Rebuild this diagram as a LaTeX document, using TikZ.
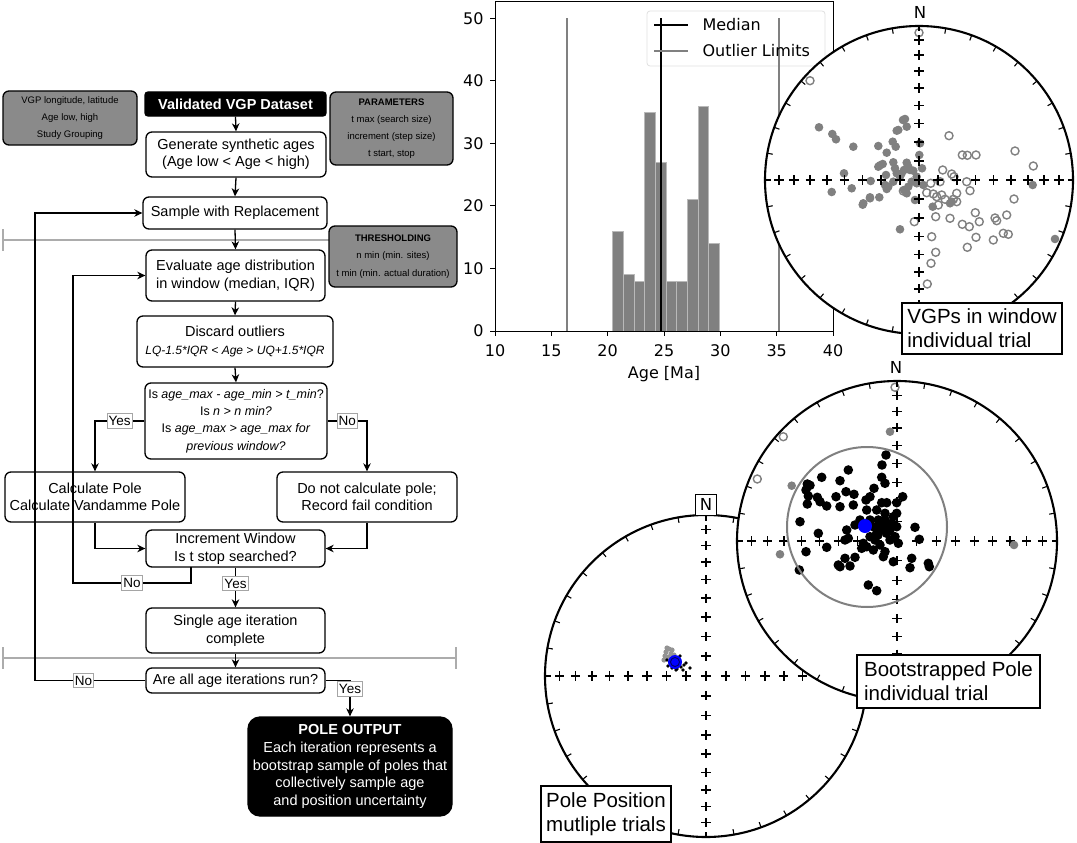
\documentclass[tikz,border=0pt]{standalone}
\usepackage{fontspec}
\setmainfont{Liberation Sans}
\newfontfamily\dvs{DejaVu Sans}
\usetikzlibrary{arrows.meta}
\definecolor{boxgray}{RGB}{138,138,138}
\definecolor{divgray}{RGB}{172,172,172}
\definecolor{mplgray}{RGB}{128,128,128}
\definecolor{lblgray}{RGB}{165,165,165}
\definecolor{mblue}{RGB}{0,0,255}
\newcommand\fs[2]{\fontsize{#1}{#2}\selectfont}
\newcommand\crs[2]{\draw[line width=1.4] ({#1-4.6},{#2}) -- ({#1+4.6},{#2}) ({#1},{#2-4.6}) -- ({#1},{#2+4.6});}
\newcommand\snetbg[3]{\fill[white] (#1,#2) circle[radius=#3pt];}
\newcommand\snetgrid[3]{%
  \foreach \k in {1,...,8}{%
    \pgfmathsetmacro\dd{#3*sqrt(2)*sin(5*\k)}%
    \crs{#1+\dd}{#2}\crs{#1-\dd}{#2}\crs{#1}{#2+\dd}\crs{#1}{#2-\dd}}%
  \crs{#1}{#2}}
\newcommand\snetrim[3]{%
  \foreach \a in {0,10,...,350}{\draw[line width=1.1] ({#1+#3*cos(\a)},{#2+#3*sin(\a)}) -- ({#1+(#3-5.5)*cos(\a)},{#2+(#3-5.5)*sin(\a)});}%
  \draw[line width=2.1] (#1,#2) circle[radius=#3pt];}
\tikzset{
  flow/.style={draw, line width=1.3, rounded corners=6, fill=white, align=center, inner sep=1.5pt, font=\fs{14.5}{17.5}},
  gflow/.style={flow, fill=boxgray, font=\fs{9.5}{17.2}},
  bflow/.style={flow, fill=black, text=white, rounded corners=3},
  lbl/.style={draw=lblgray, fill=white, line width=1, inner xsep=1.5pt, inner ysep=2.5pt, rounded corners=0, font=\fs{13.5}{16}},
  arr/.style={line width=1.3, -{Stealth[length=8pt,width=7.5pt,inset=2.5pt]}},
  hist/.style={font=\dvs\fs{16}{19}},
  slabel/.style={draw, line width=1.2, fill=white, align=left, inner sep=2.5pt, font=\fs{20.5}{24}},
  opn/.style={draw=mplgray, line width=1.4},
}
\begin{document}
\begin{tikzpicture}[x=1pt,y=-1pt]
\useasboundingbox (0,0) rectangle (1077,843);
% ---------------- flowchart ----------------
\draw[divgray, line width=1.3] (3,240) -- (457,240) (3,229) -- (3,251);
\draw[divgray, line width=1.3] (3,658) -- (456,658) (3,647) -- (3,669) (456,647) -- (456,669);

\node[gflow, minimum width=134, minimum height=54] (vgp) at (70,118) {VGP longitude, latitude\\Age low, high\\Study Grouping};
\node[bflow, minimum width=181, minimum height=24] (valid) at (235.5,104) {\textbf{Validated VGP Dataset}};
\node[gflow, minimum width=123, minimum height=73] (params) at (391.5,128.5) {\textbf{PARAMETERS}\\t max (search size)\\increment (step size)\\t start, stop};
\node[flow, minimum width=180, minimum height=45] (gen) at (236,154.5) {Generate synthetic ages\\(Age low < Age < high)};
\node[flow, minimum width=184, minimum height=32] (sample) at (235,213) {Sample with Replacement};
\node[gflow, minimum width=128, minimum height=61] (thresh) at (393,256.5) {\textbf{THRESHOLDING}\\n min (min. sites)\\t min (min. actual duration)};
\node[flow, minimum width=179, minimum height=51] (eval) at (235.5,275.5) {Evaluate age distribution\\in window (median, IQR)};
\node[flow, minimum width=196, minimum height=51] (discard) at (235,341.5) {Discard outliers\\{\fs{12}{15}\itshape LQ-1.5*IQR < Age > UQ+1.5*IQR}};
\node[flow, font=\fs{12.5}{17.3}, minimum width=182, minimum height=76] (decide) at (236,421) {Is \textit{age\_max - age\_min > t\_min}?\\Is \textit{n > n min?}\\Is \textit{age\_max > age\_max for}\\\textit{previous window?}};
\node[flow, minimum width=180, minimum height=50] (calc) at (95,497) {Calculate Pole\\Calculate Vandamme Pole};
\node[flow, minimum width=180, minimum height=50] (nocalc) at (367,497) {Do not calculate pole;\\Record fail condition};
\node[flow, font=\fs{14.5}{17.7}, minimum width=179, minimum height=37] (incr) at (235.5,548.5) {Increment Window\\Is t stop searched?};
\node[flow, minimum width=179, minimum height=45] (single) at (235.5,630.5) {Single age iteration\\complete};
\node[flow, minimum width=179, minimum height=25] (allrun) at (235.5,680.5) {Are all age iterations run?};
\node[bflow, font=\fs{14.5}{17.7}, rounded corners=12, minimum width=204, minimum height=99] (output) at (350,766.5) {\textbf{POLE OUTPUT}\\Each iteration represents a\\bootstrap sample of poles that\\collectively sample age\\and position uncertainty};

\coordinate (incrNo) at (191,567);
\coordinate (loopA) at (73,583);
\coordinate (loopB) at (35,213);

\draw[arr] (valid.south) -- (gen.north);
\draw[arr] (gen.south) -- (sample.north);
\draw[arr] (sample.south) -- (eval.north);
\draw[arr] (eval.south) -- (discard.north);
\draw[arr] (discard.south) -- (decide.north);
\draw[arr] (decide.west) -| node[lbl,pos=0.25]{Yes} (calc.north);
\draw[arr] (decide.east) -| node[lbl,pos=0.25]{No} (nocalc.north);
\draw[arr] (calc.south) |- (incr.west);
\draw[arr] (nocalc.south) |- (incr.east);
\draw[arr] (incrNo) |- node[lbl,pos=0.75]{No} (loopA) |- (eval.west);
\draw[arr] (incr.south) -- node[lbl,pos=0.4]{Yes} (single.north);
\draw[arr] (single.south) -- (allrun.north);
\draw[arr] (allrun.west) -| node[lbl,pos=0.28]{No} (loopB) -- (sample.west);
\draw[arr] (allrun.east) -| node[lbl,pos=0.62]{Yes} (output.north);

% ---------------- histogram ----------------
\draw[draw=gray!25, line width=0.8, rounded corners=3] (647,11) rectangle (825,66);
\foreach \h [count=\i from 0] in {16,9,8,35,27,8,8,21,36,14}
  \filldraw[fill=mplgray, draw=gray!55, line width=0.5] ({612.6+10.66*\i},331) rectangle ({612.6+10.66*(\i+1)},{331-6.254*\h});
\draw[mplgray, line width=2] (567,18.3) -- (567,331);
\draw[mplgray, line width=2] (779.3,18.3) -- (779.3,331);
\draw[black, line width=2] (660.7,18.3) -- (660.7,331);
\draw[line width=1] (495,2) rectangle (833,331);
\foreach \v in {10,15,...,40}{
  \draw[line width=1] ({495+11.267*(\v-10)},331) -- ++(0,5);
  \node[hist] (xl\v) at ({495+11.267*(\v-10)},351) {\v};}
\foreach \v in {0,10,...,50}{
  \draw[line width=1] (495,{331-6.254*\v}) -- ++(-5,0);
  \node[hist, anchor=east] (yl\v) at (487,{331-6.254*\v}) {\v};}
\node[hist] (xlab) at (664,374) {Age [Ma]};
\draw[black, line width=2] (654,25) -- (688,25);
\node[hist, anchor=west] (lmed) at (699,25) {Median};
\draw[mplgray, line width=2] (654,51) -- (688,51);
\node[hist, anchor=west] (lout) at (699,51) {Outlier Limits};

% ---------------- top stereonet ----------------
\snetbg{919}{180}{154}
\foreach \x/\y in {819/127.3, 832.3/134, 836/139.3, 853.3/146.7, 844/173.3, 831.7/192, 851.7/188.3, 862.7/204.7, 870/197.3, 879.3/197.3, 870.7/181, 878.3/146, 886.7/152.7, 892.7/141.7, 895.7/146.7, 896.7/130.7, 905/119, 906.7/126.7, 880/165.3, 882.7/164, 878.3/166.7, 886/175, 893.3/162.3, 895/168.3, 896.7/173.3, 900/176.7, 906.7/162.7, 908.3/166.7, 904/170, 913.3/170.7, 916.7/176.7, 911.7/181.7, 906.7/193.3, 904/190, 908.3/186.7, 919.3/155, 920/143.3, 922/168.3, 923.3/185, 915/200, 932.7/206.7, 950/203.3, 951.7/201.7, 900/229.3, 1032.7/185, 1055/239, 888.3/186.7, 886.7/189, 893.3/181.7, 901.7/173.3, 910/170, 863.3/203.3, 870/198.3, 898.3/130, 903/120, 916.7/183.3, 885/185}
  \fill[mplgray] (\x,\y) circle[radius=4.3pt];
\foreach \x/\y in {810/80.7, 919/32.7, 949/135.7, 962.3/155, 967.3/155.3, 976/155, 1015/151, 1033.3/166, 942.7/170, 951.7/174, 954/176.7, 930.7/183.3, 940/181.7, 966.7/181.7, 970/190.7, 926.7/192.7, 933.3/194, 936.7/196.7, 941.7/195, 956.7/193.3, 956.7/201.7, 953.3/199.3, 938.3/205, 945/199.3, 1014/199, 914.3/221.7, 935.7/216.7, 950/218.3, 975.3/212.7, 979.3/221.7, 962.3/224.3, 969.3/226.7, 995/218, 996.7/220.7, 1006.7/215, 931.7/236.7, 976/237.3, 993.3/240, 1003.3/233.3, 1008.3/234.3, 967.3/247.3, 935.7/252.3, 931/263.3, 927.3/284, 903.3/191}
  \draw[opn] (\x,\y) circle[radius=4pt];
\snetgrid{919}{180}{154}
\snetrim{919}{180}{154}
\node[hist, font=\dvs\fs{16.5}{19}] (n1) at (920,12) {N};
\node[slabel, minimum width=160, minimum height=51] (lab1) at (982,328.5) {VGPs in window\\individual trial};

% ---------------- bottom stereonet ----------------
\snetbg{706}{676}{161}
\snetgrid{706}{676}{161}
\foreach \x/\y in {666/652, 669/649, 672/650, 665/656, 668/657, 674/655, 671/654, 667/648, 664/660}
  \fill[gray!85] (\x,\y) circle[radius=2.6pt];
\foreach \x/\y in {670/663, 672/668, 677/669, 681/667, 684/665, 686/663, 683/670, 678/664, 667/660, 690/668, 676/670, 668/666, 680/656}
  \fill[black] (\x,\y) circle[radius=1.8pt];
\fill[mblue] (675,662) circle[radius=7pt];
\draw[black!60!blue, line width=0.9] (675,662) circle[radius=4.5pt];
\snetrim{706}{676}{161}
\node[draw, line width=1, fill=white, inner sep=1pt, minimum width=21, minimum height=21, font=\dvs\fs{16.5}{19}] (n3) at (706,504.5) {N};
\node[slabel, minimum width=130, minimum height=56] (lab3) at (606,814) {Pole Position\\mutliple trials};

% ---------------- middle stereonet ----------------
\snetbg{897}{541}{160}
\snetgrid{897}{541}{160}
\foreach \x/\y in {890/431.7, 791.7/485.7, 780/554.3, 1014/545}
  \fill[mplgray] (\x,\y) circle[radius=4.3pt];
\foreach \x/\y in {895/387.3, 783.3/436.7, 757.3/479}
  \draw[opn] (\x,\y) circle[radius=4pt];
\foreach \x/\y in {886/455, 882/465, 848.3/470, 821.7/477.3, 840/480.7, 807.3/484, 810/485.3, 806/490, 808.3/496, 817.3/497.3, 820/501.7, 807.3/504, 826.7/506, 836/496.7, 846/491.7, 854/494.3, 840/506.7, 853.3/505, 866/500, 874/488.3, 881.7/477.3, 885/483.3, 886.7/502.7, 902.7/496.7, 896.7/502.7, 881.7/502.7, 870/496.7, 876.7/510, 866.7/510, 860/520, 855/525, 846.7/530, 845/540, 848.3/538.3, 818.3/533.3, 826.7/547.3, 806/551.7, 800/521.7, 799.3/570, 838.3/565, 845/558.3, 855/557.3, 850/566, 840/566.7, 866.7/546.7, 873.3/550, 885/551.7, 883.3/556.7, 893.3/561.7, 911.7/558.3, 910/567.7, 928.3/563.3, 929.3/566.7, 915/527.3, 919.3/539.3, 898.3/543.3, 890/540, 886.7/533.3, 893.3/516.7, 896.7/513.3, 891.7/523.3, 880/526.7, 876.7/533.3, 870/536.7, 863.3/543.3, 861.7/548.3, 868.3/585, 876.7/590.7, 883.3/530, 886.7/526.7, 895/536.7, 896.7/526.7, 873.3/526.7, 878.3/520, 885/513.3, 870/520, 875/540, 880/545, 890/530, 885/520, 878/535}
  \fill[black] (\x,\y) circle[radius=4.8pt];
\draw[mplgray, line width=2] (867,527) circle[radius=80pt];
\fill[mblue] (865,526) circle[radius=7pt];
\snetrim{897}{541}{160}
\node[hist, font=\dvs\fs{16.5}{19}] (n2) at (896,367) {N};
\node[slabel, minimum width=183, minimum height=53] (lab2) at (948.5,681.5) {Bootstrapped Pole\\individual trial};
\end{tikzpicture}
\end{document}
